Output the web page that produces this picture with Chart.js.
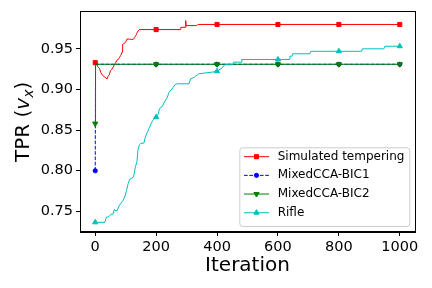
<!DOCTYPE html>
<html>
<head>
<meta charset="utf-8">
<script src="https://cdn.jsdelivr.net/npm/chart.js@4/dist/chart.umd.min.js"></script>
<style>
  body { margin: 0; background: #fff; }
  canvas { display: block; }
</style>
</head>
<body>
<canvas id="chart" width="432" height="288"></canvas>
<script>
// DATA
const xTicks = [0, 200, 400, 600, 800, 1000];
const yTicks = [0.75, 0.8, 0.85, 0.9, 0.95];
const markIters = [0, 200, 400, 600, 800, 1000];

const tempIter = [0, 3, 8, 14, 18, 25, 32, 39, 42, 46, 50, 55, 61, 66, 71, 76, 79, 84, 88, 90,
  92, 97, 101, 104, 112, 120, 126, 129, 133, 136, 141, 145, 200, 279, 281, 295, 297, 299, 302, 333,
  335, 338, 400, 600, 800, 1000];
const tempTpr = [0.933, 0.933, 0.928, 0.926, 0.921, 0.917, 0.915, 0.913, 0.916, 0.918,
  0.923, 0.925, 0.929, 0.932, 0.936, 0.937, 0.939, 0.942, 0.946, 0.955,
  0.956, 0.957, 0.959, 0.962, 0.962, 0.9615, 0.962, 0.964, 0.966, 0.969,
  0.972, 0.9737, 0.9737, 0.9737, 0.9765, 0.9765, 0.9847, 0.978, 0.9786, 0.9786,
  0.9795, 0.98, 0.98, 0.98, 0.98, 0.98];

const bicIter = [0, 1, 200, 400, 600, 800, 1000];
const bic1Tpr = [0.8, 0.931, 0.931, 0.931, 0.931, 0.931, 0.931];
const bic2Tpr = [0.858, 0.931, 0.931, 0.931, 0.931, 0.931, 0.931];

const rifleIter = [0, 32, 36, 45, 52, 58, 63, 68, 72, 78, 84, 92, 98, 103, 108, 113, 120, 126, 132, 137,
  140, 145, 149, 160, 165, 172, 180, 189, 200, 206, 211, 220, 227, 235, 243, 255, 262, 270, 308, 313,
  325, 340, 383, 400, 416, 425, 452, 454, 479, 481, 600, 637, 639, 646, 648, 705, 708, 800, 875, 877,
  948, 951, 1000];
const rifleTpr = [0.7365, 0.7365, 0.7426, 0.7435, 0.7465, 0.7465, 0.7525, 0.7505, 0.7508, 0.7565,
  0.7598, 0.7638, 0.769, 0.776, 0.784, 0.7893, 0.791, 0.7925, 0.805, 0.811,
  0.825, 0.832, 0.8334, 0.8342, 0.842, 0.848, 0.855, 0.862, 0.866, 0.869,
  0.8764, 0.879, 0.8845, 0.889, 0.8967, 0.902, 0.906, 0.907, 0.907, 0.913,
  0.915, 0.9193, 0.9213, 0.9225, 0.9262, 0.9304, 0.9304, 0.9336, 0.9336, 0.9369,
  0.9369, 0.9369, 0.9409, 0.9409, 0.9439, 0.9439, 0.947, 0.947, 0.947, 0.95,
  0.95, 0.9532, 0.9532];

const zip = (xs, ys) => xs.map((x, i) => ({ x: x, y: ys[i] }));
const markAt = (r) => (ctx) => (ctx.raw && markIters.includes(ctx.raw.x) ? r : 0);

function series(label, xs, ys, color, style, r, rot, dash, order) {
  return {
    label: label,
    data: zip(xs, ys),
    borderColor: color,
    backgroundColor: color,
    borderWidth: 1,
    borderDash: dash,
    pointStyle: style,
    pointRotation: rot,
    pointRadius: markAt(r),
    pointBorderWidth: 1,
    pointHoverRadius: 0,
    tension: 0,
    order: order,
  };
}

// y label with math-style v_x
const yTitle = {
  id: "yTitle",
  afterDraw(chart) {
    const ctx = chart.ctx;
    const parts = [
      { t: "TPR (", f: "20px 'DejaVu Sans'", dy: 0 },
      { t: "v", f: "italic 20px 'DejaVu Sans'", dy: 0 },
      { t: "x", f: "italic 14px 'DejaVu Sans'", dy: 4 },
      { t: ")", f: "20px 'DejaVu Sans'", dy: 0 },
    ];
    ctx.save();
    let w = 0;
    parts.forEach((p) => { ctx.font = p.f; p.w = ctx.measureText(p.t).width; w += p.w; });
    const ca = chart.chartArea;
    ctx.translate(28.5, (ca.top + ca.bottom) / 2);
    ctx.rotate(-Math.PI / 2);
    ctx.fillStyle = "#000";
    ctx.textBaseline = "alphabetic";
    let x = -w / 2;
    parts.forEach((p) => { ctx.font = p.f; ctx.fillText(p.t, x, p.dy); x += p.w; });
    ctx.restore();
  },
};

// frame + legend box in lower right
const frameLegend = {
  id: "frameLegend",
  afterDraw(chart) {
    const ctx = chart.ctx;
    const ca = chart.chartArea;
    ctx.save();
    ctx.strokeStyle = "#000";
    ctx.lineWidth = 1;
    ctx.strokeRect(Math.floor(ca.left) + 0.5, Math.floor(ca.top) + 0.5,
      Math.round(ca.right - ca.left), Math.round(ca.bottom - ca.top));

    const bw = 170, bh = 78.7;
    const x0 = ca.right - 5.7 - bw, y0 = ca.bottom - 6 - bh;
    ctx.beginPath();
    ctx.roundRect(x0 + 0.5, y0 + 0.5, bw, bh, 3);
    ctx.fillStyle = "rgba(255,255,255,0.8)";
    ctx.fill();
    ctx.strokeStyle = "#cccccc";
    ctx.stroke();

    const sets = [...chart.data.datasets].sort((a, b) => b.order - a.order);
    sets.forEach((ds, i) => {
      const y = y0 + 9.4 + i * 18.67;
      ctx.strokeStyle = ds.borderColor;
      ctx.fillStyle = ds.backgroundColor;
      ctx.lineWidth = 1;
      ctx.setLineDash(ds.borderDash || []);
      ctx.beginPath();
      ctx.moveTo(x0 + 4.7, y);
      ctx.lineTo(x0 + 29.7, y);
      ctx.stroke();
      ctx.setLineDash([]);
      Chart.helpers.drawPoint(ctx, {
        pointStyle: ds.pointStyle,
        radius: ds.pointRadius({ raw: { x: 0 } }),
        rotation: ds.pointRotation,
        borderWidth: 1,
      }, x0 + 17.2, y);
      ctx.fillStyle = "#000";
      ctx.font = "12px 'DejaVu Sans'";
      ctx.textBaseline = "middle";
      ctx.fillText(ds.label, x0 + 38.4, y);
    });
    ctx.restore();
  },
};

Chart.defaults.font.family = "'DejaVu Sans'";
Chart.defaults.color = "#000";

new Chart(document.querySelector("#chart"), {
  type: "line",
  data: {
    datasets: [
      series("Simulated tempering", tempIter, tempTpr, "#ff0000", "rect", 2.9, 0, [], 4),
      series("MixedCCA-BIC1", bicIter, bic1Tpr, "#0000ff", "circle", 2.1, 0, [3.7, 1.6], 3),
      series("MixedCCA-BIC2", bicIter, bic2Tpr, "#008000", "triangle", 3, 180, [], 2),
      series("Rifle", rifleIter, rifleTpr, "#00bfbf", "triangle", 3, 0, [], 1),
    ],
  },
  options: {
    responsive: false,
    animation: false,
    devicePixelRatio: 1,
    events: [],
    layout: { padding: { top: 11, right: 17, left: 0, bottom: 0 } },
    plugins: { legend: { display: false }, tooltip: { enabled: false } },
    scales: {
      x: {
        type: "linear",
        min: -50,
        max: 1050,
        afterBuildTicks: (s) => { s.ticks = xTicks.map((v) => ({ value: v })); },
        afterFit: (s) => { s.height = 56; },
        ticks: { font: { size: 14.5 }, color: "#000", maxRotation: 0, padding: 3, autoSkip: false, callback: (v) => String(v) },
        grid: { drawOnChartArea: false, tickLength: 4, color: "#000" },
        border: { color: "#000" },
        title: { display: true, text: "Iteration", font: { size: 20 }, color: "#000", padding: { top: 0, bottom: 10 } },
      },
      y: {
        min: 0.7246,
        max: 0.9957,
        afterBuildTicks: (s) => { s.ticks = yTicks.map((v) => ({ value: v })); },
        afterFit: (s) => { s.width = 80; },
        ticks: { font: { size: 14.5 }, color: "#000", padding: 3, autoSkip: false, callback: (v) => v.toFixed(2) },
        grid: { drawOnChartArea: false, tickLength: 4, color: "#000" },
        border: { color: "#000" },
      },
    },
  },
  plugins: [yTitle, frameLegend],
});
</script>
</body>
</html>
